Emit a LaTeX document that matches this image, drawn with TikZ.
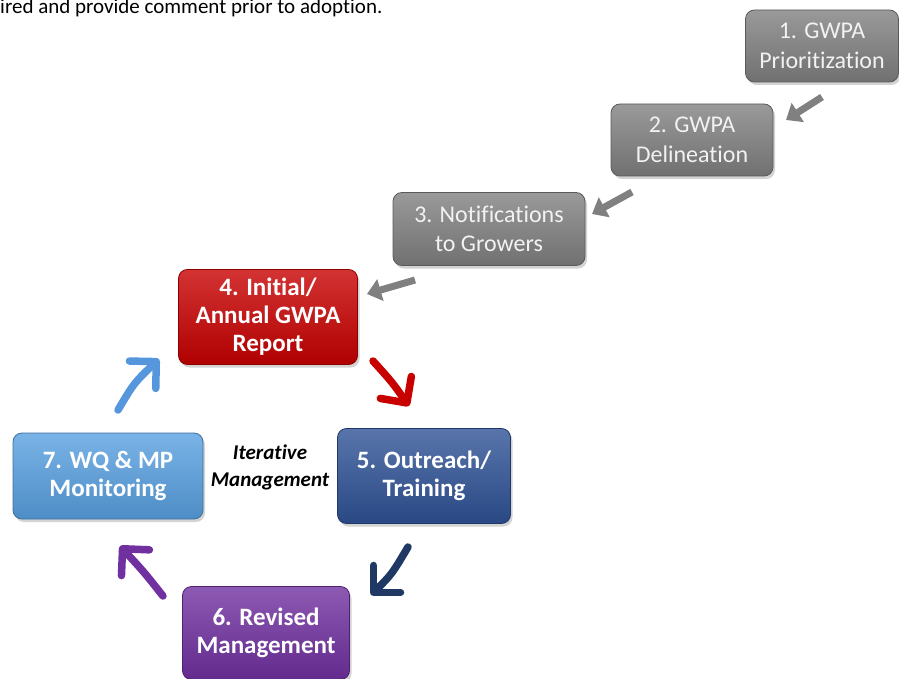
\documentclass[tikz,border=0pt]{standalone}
\usepackage{fontspec}
\setmainfont{Carlito}[Ligatures=NoCommon]
\usetikzlibrary{arrows.meta,shadows}
\definecolor{cgray}{RGB}{128,128,128}
\definecolor{cred}{RGB}{200,0,0}
\definecolor{cnavy}{RGB}{47,82,150}
\definecolor{cpurple}{RGB}{112,48,160}
\definecolor{clblue}{RGB}{88,160,225}
\definecolor{anavy}{RGB}{32,56,100}
\definecolor{alblue}{RGB}{85,150,220}
\definecolor{txtgray}{RGB}{242,242,242}
\tikzset{
  stagebox/.style={rounded corners=9pt, inner sep=0pt, align=center,
    top color=#1!80!white, bottom color=#1!88!black, draw=#1!70!black, line width=0.8pt,
    drop shadow={shadow xshift=2pt, shadow yshift=-3pt, opacity=0.35}},
  graybox/.style={stagebox=cgray, text=txtgray, font=\fontsize{24}{29.5}\selectfont},
  cyclebox/.style={stagebox=#1, text=white, font=\bfseries\fontsize{25}{28}\selectfont},
  grayarrow/.style={draw=cgray, line width=7pt, -{Triangle[length=14pt,width=22pt]}},
  cyclearrow/.style={draw=#1, line width=7.5pt, line cap=round,
    -{Straight Barb[length=19pt,width=38pt,line width=7.5pt, round]}}
}
\begin{document}
\begin{tikzpicture}[x=1pt,y=-1pt]
\useasboundingbox (0,0) rectangle (899,679);
\clip (0,0) rectangle (899,679);
\node[anchor=base west, inner sep=0pt, font=\fontsize{21}{25}\selectfont] (toptext) at (0,14) {ired and provide comment prior to adoption.};

\node[graybox, minimum width=153pt, minimum height=72pt] (s1) at (822,46) {1. GWPA\\Prioritization};
\node[graybox, minimum width=162pt, minimum height=72pt] (s2) at (692,140) {2. GWPA\\Delineation};
\node[graybox, minimum width=192pt, minimum height=73pt] (s3) at (489,229) {3. Notifications\\to Growers};
\node[cyclebox=cred, minimum width=179pt, minimum height=95pt] (s4) at (268,317) {4. Initial/\\Annual GWPA\\Report};
\node[cyclebox=cnavy, minimum width=173pt, minimum height=95pt] (s5) at (424,476) {5. Outreach/\\Training};
\node[cyclebox=cpurple, minimum width=167pt, minimum height=93pt] (s6) at (266,633) {6. Revised\\Management};
\node[cyclebox=clblue, minimum width=190pt, minimum height=86pt] (s7) at (108,476) {7. WQ \& MP\\Monitoring};

\node[align=center, font=\bfseries\itshape\fontsize{21}{27}\selectfont, inner sep=0pt] (iter) at (270,467) {Iterative\\Management};

\coordinate (a12s) at (822,97);  \coordinate (a12e) at (786,120);
\coordinate (a23s) at (632,192); \coordinate (a23e) at (592,214);
\coordinate (a34s) at (415,280); \coordinate (a34e) at (367,294);
\draw[grayarrow] (a12s) -- (a12e);
\draw[grayarrow] (a23s) -- (a23e);
\draw[grayarrow] (a34s) -- (a34e);

\coordinate (a45s) at (373,361); \coordinate (a45e) at (409,406);
\coordinate (a56s) at (408,547); \coordinate (a56e) at (371,595);
\coordinate (a67s) at (163,596); \coordinate (a67e) at (120,546);
\coordinate (a74s) at (118,410); \coordinate (a74e) at (159,359);
\draw[cyclearrow=cred] (a45s) .. controls (392,382) .. (a45e);
\draw[cyclearrow=anavy] (a56s) .. controls (392,574) .. (a56e);
\draw[cyclearrow=cpurple] (a67s) .. controls (144,572) .. (a67e);
\draw[cyclearrow=alblue] (a74s) .. controls (134,383) .. (a74e);
\end{tikzpicture}
\end{document}
